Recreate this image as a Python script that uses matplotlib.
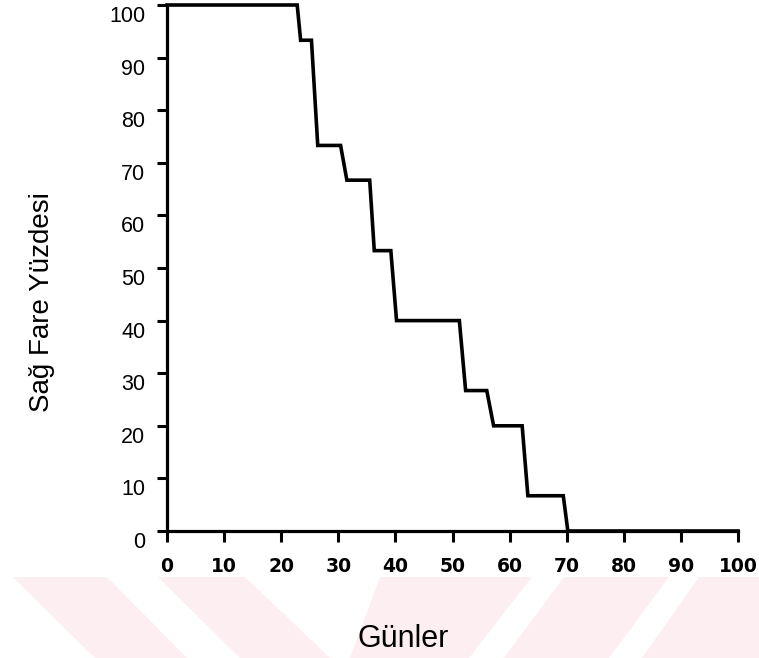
import matplotlib
matplotlib.use('Agg')
import matplotlib.pyplot as plt
import matplotlib.transforms as mtransforms
from matplotlib.patches import Polygon

# Data (Kaplan-Meier style survival curve)
drop_start = [22.8, 25.3, 30.4, 35.5, 39.2, 51.2, 56.0, 62.2, 69.4]
drop_end = [23.4, 26.4, 31.5, 36.3, 40.2, 52.3, 57.2, 63.2, 70.2]
levels = [100, 93.3, 73.3, 66.7, 53.3, 40.0, 26.7, 20.0, 6.7, 0]
x_ticks = [0, 10, 20, 30, 40, 50, 60, 70, 80, 90, 100]
y_ticks = [0, 10, 20, 30, 40, 50, 60, 70, 80, 90, 100]
x_label = "Günler"
y_label = "Sağ Fare Yüzdesi"

W, H = 759, 658
fig = plt.figure(figsize=(W / 100, H / 100), dpi=100)
fig.patch.set_facecolor('white')

# faint watermark stripes at the bottom
stripes = [
    [(13, 577), (107, 577), (187, 658), (95, 658)],
    [(158, 577), (245, 577), (330, 658), (240, 658)],
    [(380, 577), (532, 577), (469, 658), (350, 658)],
    [(564, 577), (669, 577), (609, 658), (504, 658)],
    [(699, 577), (759, 577), (759, 658), (642, 658)],
]
for poly in stripes:
    pts = [(px / W, 1 - py / H) for px, py in poly]
    fig.patches.append(Polygon(pts, closed=True, transform=fig.transFigure,
                               facecolor='#fdeef1', edgecolor='none', zorder=0))

ax = fig.add_axes([167 / W, 1 - 531 / H, 571 / W, 526 / H])
ax.patch.set_visible(False)

xs = [0]
ys = [levels[0]]
for i, (s, e) in enumerate(zip(drop_start, drop_end)):
    xs += [s, e]
    ys += [levels[i], levels[i + 1]]
xs.append(x_ticks[-1])
ys.append(levels[-1])

ax.plot(xs, ys, color='black', lw=2.6, clip_on=False, solid_joinstyle='miter', zorder=3)

ax.set_xlim(0, 100)
ax.set_ylim(0, 100)
ax.set_xticks(x_ticks)
ax.set_yticks(y_ticks)
ax.set_xticklabels([str(v) for v in x_ticks], fontfamily='DejaVu Sans',
                   fontweight='bold', fontsize=13.5)
ax.set_yticklabels([str(v) for v in y_ticks], fontfamily='Liberation Sans',
                   fontsize=15.5)

for side in ['top', 'right']:
    ax.spines[side].set_visible(False)
for side in ['left', 'bottom']:
    ax.spines[side].set_linewidth(2.3)
    ax.spines[side].set_color('black')

ax.tick_params(axis='x', direction='out', length=8, width=2.2, pad=10.5, colors='black')
ax.tick_params(axis='y', direction='out', length=7, width=2.2, pad=8.5, colors='black')

offset = mtransforms.ScaledTranslation(0, -9 / 100, fig.dpi_scale_trans)
for lab in ax.get_yticklabels():
    lab.set_transform(lab.get_transform() + offset)

fig.text(42 / W, 1 - 302 / H, y_label, rotation=90, ha='center', va='center',
         fontfamily='Liberation Sans', fontsize=20)
fig.text(403 / W, 1 - 647 / H, x_label, ha='center', va='baseline',
         fontfamily='Liberation Sans', fontsize=22)

fig.savefig('out.png', dpi=100)
